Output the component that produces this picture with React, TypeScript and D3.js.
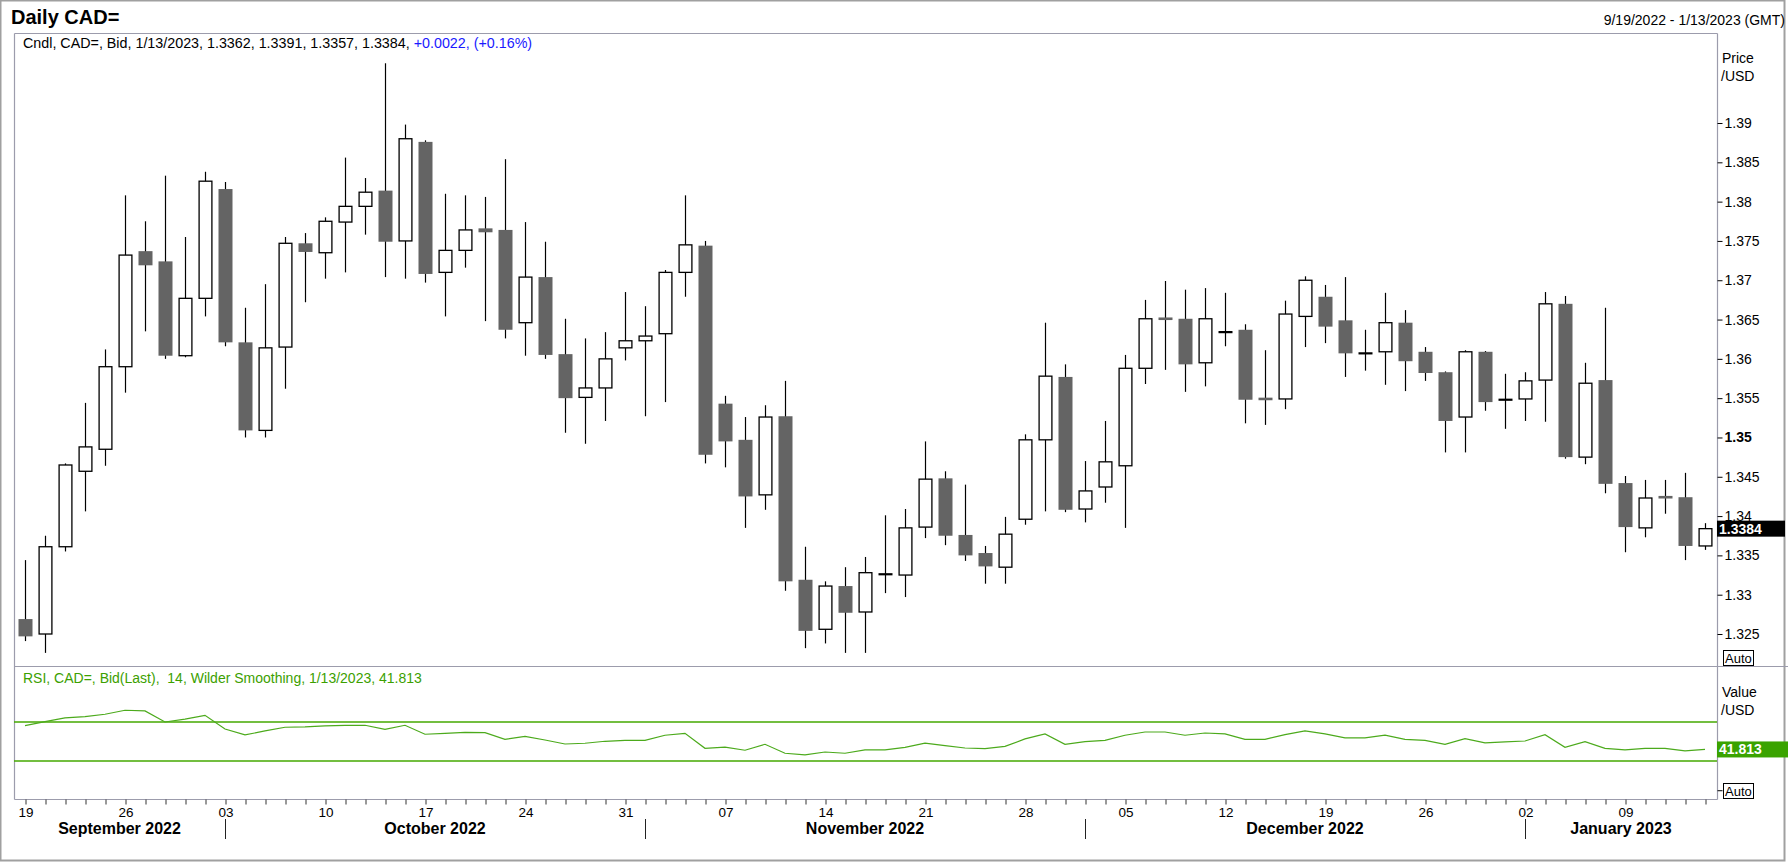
import React, { useEffect, useRef } from 'react';
import * as d3 from 'd3';

// Trading days shown on the chart (weekdays, 9/19/2022 - 1/13/2023)
const dates = [
    '2022-09-19', '2022-09-20', '2022-09-21', '2022-09-22', '2022-09-23',
    '2022-09-26', '2022-09-27', '2022-09-28', '2022-09-29', '2022-09-30',
    '2022-10-03', '2022-10-04', '2022-10-05', '2022-10-06', '2022-10-07',
    '2022-10-10', '2022-10-11', '2022-10-12', '2022-10-13', '2022-10-14',
    '2022-10-17', '2022-10-18', '2022-10-19', '2022-10-20', '2022-10-21',
    '2022-10-24', '2022-10-25', '2022-10-26', '2022-10-27', '2022-10-28',
    '2022-10-31', '2022-11-01', '2022-11-02', '2022-11-03', '2022-11-04',
    '2022-11-07', '2022-11-08', '2022-11-09', '2022-11-10', '2022-11-11',
    '2022-11-14', '2022-11-15', '2022-11-16', '2022-11-17', '2022-11-18',
    '2022-11-21', '2022-11-22', '2022-11-23', '2022-11-24', '2022-11-25',
    '2022-11-28', '2022-11-29', '2022-11-30', '2022-12-01', '2022-12-02',
    '2022-12-05', '2022-12-06', '2022-12-07', '2022-12-08', '2022-12-09',
    '2022-12-12', '2022-12-13', '2022-12-14', '2022-12-15', '2022-12-16',
    '2022-12-19', '2022-12-20', '2022-12-21', '2022-12-22', '2022-12-23',
    '2022-12-26', '2022-12-27', '2022-12-28', '2022-12-29', '2022-12-30',
    '2023-01-02', '2023-01-03', '2023-01-04', '2023-01-05', '2023-01-06',
    '2023-01-09', '2023-01-10', '2023-01-11', '2023-01-12', '2023-01-13'
];

const open = [
    1.3269, 1.3250, 1.3361, 1.3457, 1.3485, 1.3590, 1.3737, 1.3724, 1.3604, 1.3677,
    1.3816, 1.3621, 1.3509, 1.3615, 1.3747, 1.3735, 1.3774, 1.3794, 1.3814, 1.3750,
    1.3876, 1.3710, 1.3738, 1.3766, 1.3764, 1.3646, 1.3704, 1.3606, 1.3551, 1.3563,
    1.3614, 1.3623, 1.3632, 1.3710, 1.3744, 1.3543, 1.3497, 1.3427, 1.3527, 1.3319,
    1.3256, 1.3311, 1.3278, 1.3326, 1.3325, 1.3386, 1.3448, 1.3376, 1.3353, 1.3335,
    1.3396, 1.3497, 1.3577, 1.3409, 1.3437, 1.3464, 1.3588, 1.3652, 1.3651, 1.3595,
    1.3634, 1.3637, 1.3550, 1.3549, 1.3654, 1.3679, 1.3649, 1.3607, 1.3609, 1.3646,
    1.3609, 1.3583, 1.3526, 1.3609, 1.3548, 1.3549, 1.3573, 1.3670, 1.3475, 1.3573,
    1.3442, 1.3385, 1.3425, 1.3424, 1.3362
];

const high = [
    1.3344, 1.3375, 1.3467, 1.3544, 1.3612, 1.3808, 1.3775, 1.3833, 1.3755, 1.3838,
    1.3825, 1.3665, 1.3695, 1.3755, 1.3760, 1.3780, 1.3856, 1.3830, 1.3976, 1.3898,
    1.3878, 1.3810, 1.3808, 1.3806, 1.3854, 1.3774, 1.3749, 1.3651, 1.3626, 1.3634,
    1.3685, 1.3667, 1.3713, 1.3808, 1.3750, 1.3553, 1.3526, 1.3541, 1.3572, 1.3361,
    1.3317, 1.3335, 1.3348, 1.3401, 1.3409, 1.3495, 1.3457, 1.3440, 1.3362, 1.3399,
    1.3504, 1.3646, 1.3593, 1.3470, 1.3521, 1.3605, 1.3675, 1.3699, 1.3688, 1.3690,
    1.3684, 1.3644, 1.3611, 1.3674, 1.3705, 1.3694, 1.3704, 1.3637, 1.3684, 1.3662,
    1.3615, 1.3584, 1.3611, 1.3610, 1.3581, 1.3583, 1.3685, 1.3680, 1.3595, 1.3665,
    1.3451, 1.3446, 1.3446, 1.3455, 1.3391
];

const low = [
    1.3241, 1.3226, 1.3355, 1.3406, 1.3464, 1.3557, 1.3635, 1.3600, 1.3602, 1.3654,
    1.3616, 1.3500, 1.3500, 1.3562, 1.3672, 1.3702, 1.3710, 1.3758, 1.3704, 1.3702,
    1.3697, 1.3654, 1.3716, 1.3648, 1.3626, 1.3604, 1.3600, 1.3506, 1.3492, 1.3521,
    1.3598, 1.3527, 1.3545, 1.3679, 1.3467, 1.3462, 1.3385, 1.3408, 1.3305, 1.3232,
    1.3238, 1.3226, 1.3226, 1.3302, 1.3297, 1.3372, 1.3363, 1.3343, 1.3314, 1.3314,
    1.3389, 1.3406, 1.3405, 1.3392, 1.3417, 1.3385, 1.3568, 1.3586, 1.3558, 1.3565,
    1.3616, 1.3518, 1.3516, 1.3536, 1.3615, 1.3620, 1.3577, 1.3585, 1.3567, 1.3559,
    1.3572, 1.3481, 1.3481, 1.3534, 1.3511, 1.3521, 1.3520, 1.3473, 1.3466, 1.3429,
    1.3354, 1.3373, 1.3403, 1.3344, 1.3357
];

const close = [
    1.3247, 1.3361, 1.3465, 1.3488, 1.3590, 1.3732, 1.3719, 1.3604, 1.3677, 1.3826,
    1.3621, 1.3509, 1.3614, 1.3747, 1.3736, 1.3775, 1.3794, 1.3812, 1.3749, 1.3880,
    1.3708, 1.3738, 1.3764, 1.3761, 1.3637, 1.3704, 1.3605, 1.3550, 1.3563, 1.3600,
    1.3623, 1.3629, 1.3710, 1.3745, 1.3478, 1.3495, 1.3425, 1.3526, 1.3317, 1.3254,
    1.3311, 1.3277, 1.3328, 1.3326, 1.3385, 1.3447, 1.3375, 1.3350, 1.3336, 1.3377,
    1.3497, 1.3578, 1.3408, 1.3432, 1.3469, 1.3588, 1.3651, 1.3650, 1.3593, 1.3651,
    1.3634, 1.3548, 1.3548, 1.3657, 1.3700, 1.3641, 1.3607, 1.3607, 1.3646, 1.3597,
    1.3582, 1.3521, 1.3609, 1.3545, 1.3548, 1.3572, 1.3670, 1.3475, 1.3569, 1.3441,
    1.3386, 1.3423, 1.3423, 1.3362, 1.3384
];

// RSI(14), Wilder smoothing
const rsi = [
    66.2, 70.3, 74.1, 75.5, 77.9, 82.0, 81.3, 70.0, 73.0, 76.8,
    62.8, 56.7, 60.8, 64.6, 64.9, 65.9, 66.6, 66.6, 62.5, 66.6,
    57.4, 58.4, 59.4, 59.0, 52.2, 55.3, 51.5, 47.4, 48.2, 50.2,
    51.2, 51.2, 56.4, 58.4, 43.0, 44.1, 41.0, 47.1, 37.9, 36.2,
    39.2, 37.9, 41.3, 41.3, 44.0, 48.2, 45.7, 43.3, 42.6, 45.0,
    52.6, 57.7, 47.1, 49.8, 51.2, 56.4, 59.7, 59.7, 56.4, 58.7,
    57.7, 52.2, 52.2, 57.0, 60.8, 57.7, 53.6, 53.6, 56.4, 52.2,
    51.2, 47.1, 52.9, 48.5, 49.5, 50.5, 57.0, 44.0, 49.8, 42.9,
    41.3, 42.9, 42.9, 40.3, 41.813
];
const rsiLevels = [70, 30];

const priceTicks = [1.325, 1.33, 1.335, 1.34, 1.345, 1.35, 1.355, 1.36, 1.365, 1.37, 1.375, 1.38, 1.385, 1.39];
const weekStarts = [
    '2022-09-19', '2022-09-26', '2022-10-03', '2022-10-10', '2022-10-17', '2022-10-24',
    '2022-10-31', '2022-11-07', '2022-11-14', '2022-11-21', '2022-11-28', '2022-12-05',
    '2022-12-12', '2022-12-19', '2022-12-26', '2023-01-02', '2023-01-09'
];
const monthStarts = ['2022-10-03', '2022-11-01', '2022-12-01', '2023-01-02'];
const monthLabels = ['September 2022', 'October 2022', 'November 2022', 'December 2022', 'January 2023'];

const FONT = '"Liberation Sans", Arial, sans-serif';

const App: React.FC = () => {
    const svgRef = useRef<SVGSVGElement>(null);

    useEffect(() => {
        if (!svgRef.current) return;
        const width = 1788;
        const height = 862;

        const svg = d3.select(svgRef.current);
        svg.selectAll('*').remove();
        svg.attr('width', width).attr('height', height)
            .attr('font-family', FONT);

        // Panel geometry
        const left = 14, right = 1717;
        const priceTop = 33, priceBottom = 666, rsiBottom = 799;

        svg.append('rect').attr('width', width).attr('height', height).attr('fill', '#fff');
        svg.append('rect')
            .attr('x', 0.5).attr('y', 0.5).attr('width', 1784).attr('height', 860)
            .attr('fill', 'none').attr('stroke', '#a0a0a0').attr('stroke-width', 2);

        const x = d3.scalePoint<string>().domain(dates).range([25, 1705]);
        const y = d3.scaleLinear().domain([1.32093, 1.40145]).range([priceBottom, priceTop]);
        const yR = d3.scaleLinear().domain([-9.0, 127.4]).range([rsiBottom, priceBottom]);

        const data = dates.map((d, i) => ({ date: d, o: open[i], h: high[i], l: low[i], c: close[i], r: rsi[i] }));

        // Panel borders
        const border = '#9c9cac';
        const lines: [number, number, number, number][] = [
            [left, priceTop, right, priceTop],
            [left, priceTop, left, rsiBottom],
            [right, priceTop, right, rsiBottom],
            [left, priceBottom, width, priceBottom],
            [left, rsiBottom, right, rsiBottom]
        ];
        svg.append('g').selectAll('line').data(lines).enter().append('line')
            .attr('x1', d => d[0] + 0.5).attr('y1', d => d[1] + 0.5)
            .attr('x2', d => d[2] + 0.5).attr('y2', d => d[3] + 0.5)
            .attr('stroke', border).attr('stroke-width', 1.2);

        // Header texts
        svg.append('text').attr('x', 11).attr('y', 24)
            .attr('font-size', 20).attr('font-weight', 'bold').attr('fill', '#000')
            .text('Daily CAD=');
        svg.append('text').attr('x', 1785).attr('y', 25).attr('text-anchor', 'end')
            .attr('font-size', 14).attr('fill', '#000')
            .text('9/19/2022 - 1/13/2023 (GMT)');

        const last = data[data.length - 1];
        const prev = data[data.length - 2];
        const chg = last.c - prev.c;
        const legend = svg.append('text').attr('x', 23).attr('y', 48).attr('font-size', 14.3);
        legend.append('tspan').attr('fill', '#000')
            .text(`Cndl, CAD=, Bid, 1/13/2023, ${last.o.toFixed(4)}, ${last.h.toFixed(4)}, ${last.l.toFixed(4)}, ${last.c.toFixed(4)}, `);
        legend.append('tspan').attr('fill', '#1a1aff')
            .text(`+${chg.toFixed(4)}, (+${(chg / prev.c * 100).toFixed(2)}%)`);

        // Candles
        const bodyW = 14;
        const g = svg.append('g');
        g.selectAll('.wick').data(data).enter().append('line')
            .attr('x1', d => (x(d.date) as number) + 0.5)
            .attr('x2', d => (x(d.date) as number) + 0.5)
            .attr('y1', d => y(d.h)).attr('y2', d => y(d.l))
            .attr('stroke', '#000').attr('stroke-width', 1.2);

        data.forEach(d => {
            const cx = x(d.date) as number;
            const top = y(Math.max(d.o, d.c));
            const bot = y(Math.min(d.o, d.c));
            const down = d.c < d.o;
            if (bot - top < 2) {
                g.append('line')
                    .attr('x1', cx - bodyW / 2 + 0.5).attr('x2', cx + bodyW / 2 + 0.5)
                    .attr('y1', (top + bot) / 2).attr('y2', (top + bot) / 2)
                    .attr('stroke', down ? '#646464' : '#000')
                    .attr('stroke-width', down ? 2.6 : 2.2);
            } else if (down) {
                g.append('rect')
                    .attr('x', cx - bodyW / 2 + 0.5).attr('y', top)
                    .attr('width', bodyW).attr('height', bot - top)
                    .attr('fill', '#646464');
            } else {
                g.append('rect')
                    .attr('x', cx - bodyW / 2 + 1.1).attr('y', top)
                    .attr('width', bodyW - 1.2).attr('height', bot - top)
                    .attr('fill', '#fff').attr('stroke', '#000').attr('stroke-width', 1.3);
            }
        });

        // Price axis
        const pAxis = svg.append('g')
            .attr('transform', `translate(${right + 0.5},0)`)
            .call(d3.axisRight(y).tickValues(priceTicks).tickSize(5).tickPadding(2)
                .tickFormat(d => String(+(+d).toFixed(3))));
        pAxis.select('.domain').remove();
        pAxis.selectAll('.tick line').attr('stroke', '#000');
        pAxis.selectAll('.tick text')
            .attr('font-family', FONT).attr('font-size', 14).attr('fill', '#000')
            .attr('font-weight', d => (Math.abs((d as number) - 1.35) < 1e-9 ? 'bold' : 'normal'));

        svg.append('text').attr('x', 1722).attr('y', 63).attr('font-size', 14).text('Price');
        svg.append('text').attr('x', 1721).attr('y', 81).attr('font-size', 14).text('/USD');

        // Last price box
        const yc = y(last.c);
        svg.append('rect').attr('x', right).attr('y', yc - 8).attr('width', 68).attr('height', 16).attr('fill', '#000');
        svg.append('text').attr('x', right + 2).attr('y', yc + 5).attr('font-size', 14)
            .attr('font-weight', 'bold').attr('fill', '#fff').text(last.c.toFixed(4));

        const autoBox = (yTop: number) => {
            svg.append('rect').attr('x', 1723.5).attr('y', yTop + 0.5).attr('width', 30).attr('height', 15)
                .attr('fill', '#fff').attr('stroke', '#000').attr('stroke-width', 1);
            svg.append('text').attr('x', 1725).attr('y', yTop + 13).attr('font-size', 13).text('Auto');
        };
        autoBox(650);

        // RSI panel
        const green = '#44a800';
        svg.append('text').attr('x', 23).attr('y', 683).attr('font-size', 14).attr('fill', '#3ca000')
            .style('white-space', 'pre')
            .text(`RSI, CAD=, Bid(Last),  14, Wilder Smoothing, 1/13/2023, ${last.r.toFixed(3)}`);

        svg.append('g').selectAll('line').data(rsiLevels).enter().append('line')
            .attr('x1', left).attr('x2', right)
            .attr('y1', d => yR(d)).attr('y2', d => yR(d))
            .attr('stroke', green).attr('stroke-width', 1.5);

        svg.append('path').datum(data)
            .attr('fill', 'none').attr('stroke', '#4caa1c').attr('stroke-width', 1.2)
            .attr('d', d3.line<typeof data[number]>().x(d => x(d.date) as number).y(d => yR(d.r)));

        const rAxis = svg.append('g')
            .attr('transform', `translate(${right + 0.5},0)`)
            .call(d3.axisRight(yR).tickValues([0]).tickSize(5).tickFormat(() => ''));
        rAxis.select('.domain').remove();
        rAxis.selectAll('.tick line').attr('stroke', '#000');

        svg.append('text').attr('x', 1722).attr('y', 697).attr('font-size', 14).text('Value');
        svg.append('text').attr('x', 1721).attr('y', 715).attr('font-size', 14).text('/USD');

        const yv = yR(last.r);
        svg.append('rect').attr('x', right).attr('y', yv - 8).attr('width', 71).attr('height', 16).attr('fill', '#3aa300');
        svg.append('text').attr('x', right + 2).attr('y', yv + 5).attr('font-size', 14)
            .attr('font-weight', 'bold').attr('fill', '#fff').text(last.r.toFixed(3));
        autoBox(783);

        // Date axis
        const xAxis = svg.append('g')
            .attr('transform', `translate(0.5,${rsiBottom + 0.5})`)
            .call(d3.axisBottom(x).tickSize(5).tickPadding(3)
                .tickFormat(d => (weekStarts.includes(d) ? d.slice(8) : '')));
        xAxis.select('.domain').remove();
        xAxis.selectAll('.tick line').attr('stroke', '#333');
        xAxis.selectAll('.tick text').attr('font-family', FONT).attr('font-size', 13.5).attr('fill', '#000');

        // Month separators and labels
        const bounds = [left, ...monthStarts.map(m => x(m) as number), right];
        svg.append('g').selectAll('line').data(monthStarts).enter().append('line')
            .attr('x1', d => (x(d) as number) + 0.5).attr('x2', d => (x(d) as number) + 0.5)
            .attr('y1', 819).attr('y2', 839)
            .attr('stroke', '#222').attr('stroke-width', 1);
        svg.append('g').selectAll('text').data(monthLabels).enter().append('text')
            .attr('x', (d, i) => (bounds[i] + bounds[i + 1]) / 2)
            .attr('y', 834).attr('text-anchor', 'middle')
            .attr('font-size', 16).attr('font-weight', 'bold').attr('fill', '#000')
            .text(d => d);
    }, []);

    return (
        <svg ref={svgRef} style={{ position: 'absolute', left: 0, top: 0, display: 'block' }}></svg>
    );
};

export default App;
